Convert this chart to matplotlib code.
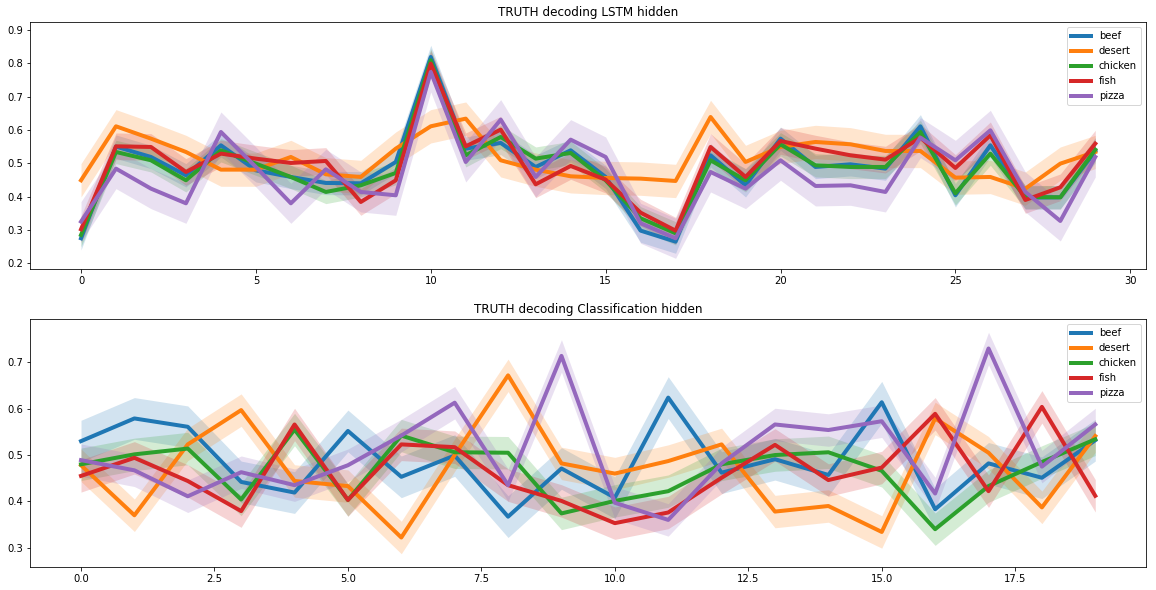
import numpy as np
import matplotlib
matplotlib.use("Agg")
import matplotlib.pyplot as plt

labels = ["beef", "desert", "chicken", "fish", "pizza"]
colors = ["#1f77b4", "#ff7f0e", "#2ca02c", "#d62728", "#9467bd"]

# Top panel: LSTM hidden (30 steps)
lstm_beef = [0.275, 0.55, 0.519, 0.464, 0.554, 0.479, 0.459, 0.441, 0.44, 0.504,
             0.819, 0.544, 0.561, 0.489, 0.539, 0.459, 0.298, 0.265, 0.524, 0.434,
             0.574, 0.489, 0.497, 0.484, 0.611, 0.404, 0.554, 0.397, 0.398, 0.536]
lstm_desert = [0.449, 0.611, 0.574, 0.534, 0.481, 0.481, 0.519, 0.467, 0.459, 0.544,
               0.611, 0.634, 0.509, 0.481, 0.461, 0.456, 0.454, 0.447, 0.639, 0.504,
               0.549, 0.564, 0.557, 0.537, 0.537, 0.457, 0.459, 0.424, 0.499, 0.534]
lstm_chicken = [0.285, 0.534, 0.509, 0.449, 0.539, 0.499, 0.459, 0.414, 0.434, 0.471,
                0.809, 0.524, 0.579, 0.514, 0.531, 0.449, 0.335, 0.29, 0.509, 0.449,
                0.557, 0.494, 0.489, 0.489, 0.594, 0.41, 0.529, 0.399, 0.398, 0.541]
lstm_fish = [0.302, 0.551, 0.549, 0.474, 0.529, 0.514, 0.501, 0.507, 0.384, 0.449,
             0.799, 0.551, 0.601, 0.437, 0.492, 0.451, 0.352, 0.298, 0.549, 0.459,
             0.567, 0.544, 0.524, 0.511, 0.577, 0.486, 0.584, 0.39, 0.428, 0.559]
lstm_pizza = [0.325, 0.484, 0.424, 0.38, 0.594, 0.489, 0.38, 0.482, 0.414, 0.404,
              0.774, 0.504, 0.631, 0.459, 0.571, 0.519, 0.32, 0.275, 0.474, 0.424,
              0.509, 0.432, 0.434, 0.414, 0.577, 0.509, 0.599, 0.414, 0.327, 0.519]
lstm_err = [0.035, 0.05, 0.035, 0.04, 0.06]

# Bottom panel: Classification hidden (20 steps)
cls_beef = [0.53, 0.579, 0.561, 0.442, 0.419, 0.552, 0.453, 0.499, 0.367, 0.471,
            0.408, 0.624, 0.462, 0.491, 0.457, 0.614, 0.383, 0.482, 0.451, 0.532]
cls_desert = [0.478, 0.37, 0.523, 0.597, 0.444, 0.433, 0.322, 0.5, 0.672, 0.482,
              0.46, 0.487, 0.523, 0.378, 0.39, 0.334, 0.579, 0.505, 0.387, 0.541]
cls_chicken = [0.48, 0.5015, 0.514, 0.404, 0.555, 0.403, 0.542, 0.506, 0.505, 0.374,
               0.401, 0.422, 0.48, 0.5, 0.506, 0.466, 0.34, 0.433, 0.485, 0.534]
cls_fish = [0.455, 0.494, 0.444, 0.379, 0.566, 0.403, 0.523, 0.517, 0.435, 0.401,
            0.353, 0.376, 0.451, 0.522, 0.446, 0.473, 0.589, 0.422, 0.604, 0.412]
cls_pizza = [0.489, 0.467, 0.411, 0.463, 0.435, 0.478, 0.542, 0.613, 0.435, 0.714,
             0.397, 0.36, 0.482, 0.566, 0.554, 0.573, 0.417, 0.73, 0.475, 0.566]
cls_err = [0.045, 0.035, 0.035, 0.035, 0.035]

W, H = 1156, 590
fig = plt.figure(figsize=(W / 72, H / 72), dpi=72)

def ax_rect(left, right, top, bottom):
    return [left / W, 1 - bottom / H, (right - left) / W, (bottom - top) / H]

ax1 = fig.add_axes(ax_rect(30.3, 1146, 22.3, 269.3))
ax2 = fig.add_axes(ax_rect(30.3, 1146, 319.3, 566.7))

def draw(ax, series, errs, title, ylim):
    for lab, col, y, e in zip(labels, colors, series, errs):
        y = np.asarray(y)
        x = np.arange(len(y))
        ax.fill_between(x, y - e, y + e, color=col, alpha=0.2, linewidth=0)
        ax.plot(x, y, color=col, lw=4, label=lab)
    ax.set_title(title, fontsize=12)
    ax.set_ylim(*ylim)
    ax.legend(loc="upper right", fontsize=10)

draw(ax1, [lstm_beef, lstm_desert, lstm_chicken, lstm_fish, lstm_pizza], lstm_err,
     "TRUTH decoding LSTM hidden", (0.182, 0.923))
ax1.set_yticks([0.2, 0.3, 0.4, 0.5, 0.6, 0.7, 0.8, 0.9])
draw(ax2, [cls_beef, cls_desert, cls_chicken, cls_fish, cls_pizza], cls_err,
     "TRUTH decoding Classification hidden", (0.259, 0.793))
ax2.set_yticks([0.3, 0.4, 0.5, 0.6, 0.7])

fig.savefig("out.png", dpi=72)
